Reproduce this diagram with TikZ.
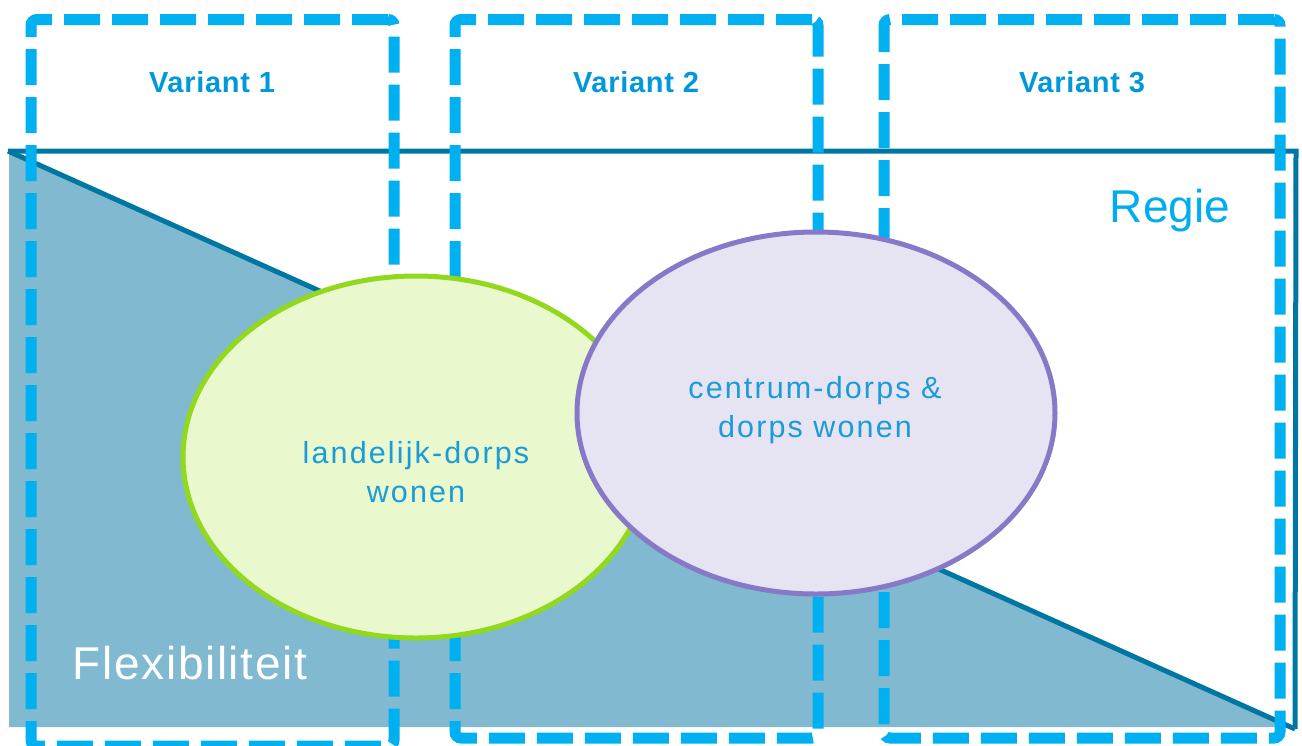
\documentclass[tikz,border=0pt]{standalone}
\usepackage{fontspec}
\setmainfont{Liberation Sans}
\usetikzlibrary{shapes.geometric}

\definecolor{frameteal}{RGB}{0,119,163}
\definecolor{flexblue}{RGB}{128,185,208}
\definecolor{dashcyan}{RGB}{0,176,240}
\definecolor{labelblue}{RGB}{0,152,218}
\definecolor{regieblue}{RGB}{0,174,239}
\definecolor{inkblue}{RGB}{27,155,215}
\definecolor{limeline}{RGB}{146,216,28}
\definecolor{limefill}{RGB}{234,248,206}
\definecolor{lilacline}{RGB}{136,120,200}
\definecolor{lilacfill}{RGB}{230,227,243}

\begin{document}
\begin{tikzpicture}[x=1pt,y=-1pt,
  frame/.style={draw=frameteal,line width=5pt,line join=miter},
  varbox/.style={draw=dashcyan,line width=11pt,dash pattern=on 36pt off 12pt,
    rounded corners=6pt,inner sep=0pt},
  varlabel/.style={text=labelblue,inner sep=0pt,anchor=base,
    font=\fontsize{29}{34}\selectfont\bfseries\addfontfeature{LetterSpace=2.5}},
  bigword/.style={inner sep=0pt,anchor=base,font=\fontsize{46}{52}\selectfont},
  blob/.style={ellipse,line width=5pt,inner sep=0pt},
  blobtext/.style={text=inkblue,align=center,inner sep=0pt,
    font=\fontsize{30.5}{39}\selectfont\addfontfeature{LetterSpace=7}}
]
\useasboundingbox (0,0) rectangle (1302,745);

% Flexibility wedge and the frame around it
\coordinate (tl) at (8,151);
\coordinate (tr) at (1296,151);
\coordinate (br) at (1295,729);
\coordinate (wl) at (9,151);
\coordinate (wb) at (9,727);
\coordinate (wr) at (1290,727);
\fill[flexblue] (wl) -- (wr) -- (wb) -- cycle;
\draw[frame] (tl) -- (br);
\draw[frame] (tl) -- (tr) -- (br);

% Dashed variant columns
\node[varbox,minimum width=363pt,minimum height=726.5pt] (v1) at (212.5,382.75) {};
\node[varbox,minimum width=363pt,minimum height=718.5pt] (v2) at (636.5,378.75) {};
\node[varbox,minimum width=396pt,minimum height=718.5pt] (v3) at (1082,378.75) {};

\node[varlabel] (l1) at (212,92) {Variant 1};
\node[varlabel] (l2) at (636,92) {Variant 2};
\node[varlabel] (l3) at (1082,92) {Variant 3};

% Housing types
\node[blob,draw=limeline,fill=limefill,minimum width=466pt,minimum height=362pt] (rural) at (416,457) {};
\node[blob,draw=lilacline,fill=lilacfill,minimum width=478pt,minimum height=362pt] (village) at (816,413) {};

\node[blobtext] (ruraltext) at (416,472.5) {landelijk-dorps\\wonen};
\node[blobtext] (villagetext) at (815,410.5) {centrum-dorps \&\\dorps wonen};

% Axis words
\node[bigword,text=regieblue] (regie) at (1170,222) {Regie};
\node[bigword,text=white,font=\fontsize{46}{52}\selectfont\addfontfeature{LetterSpace=3.5}] (flex) at (190,679) {Flexibiliteit};
\end{tikzpicture}
\end{document}
